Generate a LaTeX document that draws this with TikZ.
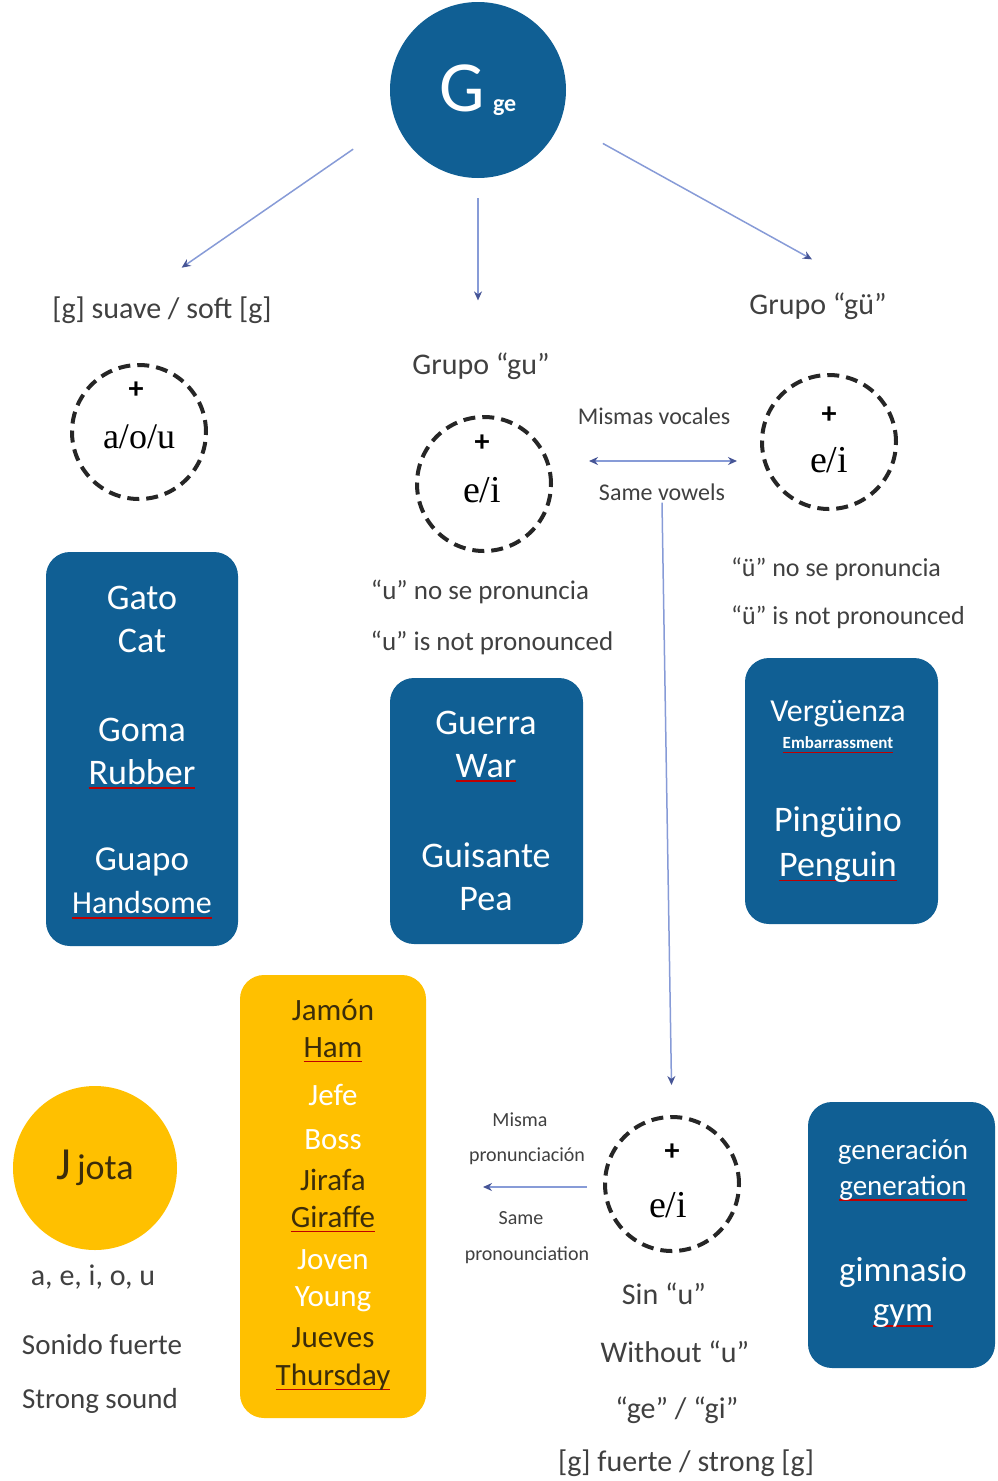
\documentclass[tikz,border=0pt]{standalone}
\usepackage{fontspec}
\setmainfont{Carlito}
\newfontfamily\vokalschrift{Liberation Serif}
\usetikzlibrary{arrows.meta}

\definecolor{gblau}{RGB}{16,95,148}
\definecolor{jgelb}{RGB}{255,192,0}
\definecolor{pfeil}{RGB}{135,155,215}
\definecolor{pfeilspitze}{RGB}{70,85,150}
\definecolor{grautext}{RGB}{64,64,64}
\definecolor{jdunkel}{RGB}{60,45,10}

\newcommand\fsz[1]{\fontsize{#1}{#1}\selectfont}
\newsavebox\wortbox
\newcommand\unterstr[1]{\sbox\wortbox{#1}\rlap{\textcolor{red!75!black}{\rule[-5pt]{\wd\wortbox}{1.6pt}}}\usebox\wortbox}

\begin{document}
\begin{tikzpicture}[x=1pt,y=-1pt,
    kasten/.style={rectangle, rounded corners=24pt, inner sep=0pt},
    kreis/.style={circle, draw=black!85, line width=4pt, dash pattern=on 12pt off 7pt, minimum size=134pt, inner sep=0pt},
    grau/.style={text=grautext, inner sep=2pt},
    pf/.style={draw=pfeil, line width=1.5pt, -{Stealth[length=9pt,width=8pt,color=pfeilspitze]}},
    wort/.style={text=white, inner sep=1pt}]
    \useasboundingbox (0,0) rectangle (997,1481);

    % Hauptkreis
    \node[circle, fill=gblau, minimum size=176pt, text=white] (gge) at (478,90)
        {\fsz{72}G\hspace{8pt}\fsz{24}\bfseries ge};

    \node[grau] (soft) at (162,310) {\fsz{30}[g] suave / soft [g]};
    \node[grau] (gu) at (481,366) {\fsz{30}Grupo “gu”};
    \node[grau] (gue) at (818,306) {\fsz{30}Grupo “gü”};

    \draw[pf, shorten <=51pt, shorten >=47pt] (gge.200) -- ([xshift=-19pt]soft.north);
    \draw[pf, shorten <=20pt, shorten >=50pt] (gge.south) -- (gge.south |- gu.north);
    \draw[pf, shorten <=48pt, shorten >=64pt] (gge.340) -- ([xshift=50pt]gue.north);

    % Kreise
    \node[kreis] (k1) at (139,432) {};
    \node (k1p) at (136,390) {\fsz{30}\bfseries +};
    \node (k1t) at (139,437) {\vokalschrift\fsz{36}a/o/u};
    \node[kreis] (k2) at (484,484) {};
    \node (k2p) at (482,443) {\fsz{30}\bfseries +};
    \node (k2t) at (482,490) {\vokalschrift\fsz{38}e/i};
    \node[kreis] (k3) at (829,442) {};
    \node (k3p) at (829,415) {\fsz{30}\bfseries +};
    \node (k3t) at (829,460) {\vokalschrift\fsz{38}e/i};
    \node[kreis] (k4) at (672,1184) {};
    \node (k4p) at (672,1152) {\fsz{30}\bfseries +};
    \node (k4t) at (668,1205) {\vokalschrift\fsz{38}e/i};

    \node[grau] (misv) at (654,416) {\fsz{24}Mismas vocales};
    \node[grau] (samev) at (662,492) {\fsz{24}Same vowels};
    \draw[pf, {Stealth[length=9pt,width=8pt,color=pfeilspitze]}-{Stealth[length=9pt,width=8pt,color=pfeilspitze]}]
        ([xshift=36pt,yshift=23pt]k2.east) -- ([xshift=-23pt,yshift=-19pt]k3.west);
    \draw[pf, shorten >=30pt] (samev.south) -- (k4.north);

    \node[grau] (unp1) at (480,592) {\fsz{27}“u” no se pronuncia};
    \node[grau] (unp2) at (492,643) {\fsz{27}“u” is not pronounced};
    \node[grau] (uep1) at (836,569) {\fsz{26}“ü” no se pronuncia};
    \node[grau] (uep2) at (848,617) {\fsz{26}“ü” is not pronounced};

    % Wortkaesten
    \node[kasten, fill=gblau, minimum width=192pt, minimum height=394pt] (box1) at (142,749) {};
    \foreach \y/\s/\w [count=\i] in {598/36/Gato, 641/36/Cat, 730/36/Goma, 774/36/\unterstr{Rubber}, 862/35/Guapo, 905/32/\unterstr{Handsome}}
        \node[wort] (a\i) at (142,\y) {\fsz{\s}\w};

    \node[kasten, fill=gblau, minimum width=193pt, minimum height=266pt] (box2) at (486.5,811) {};
    \foreach \y/\w [count=\i] in {723/Guerra, 768/\unterstr{War}, 855/Guisante, 899/Pea}
        \node[wort] (b\i) at (486,\y) {\fsz{36}\w};

    \node[kasten, fill=gblau, minimum width=193pt, minimum height=266pt] (box3) at (841.5,791) {};
    \foreach \y/\s/\w [count=\i] in {714/32/Vergüenza, 745/17/\unterstr{\bfseries Embarrassment}, 822/36/Pingüino, 867/36/\unterstr{Penguin}}
        \node[wort] (c\i) at (838,\y) {\fsz{\s}\w};

    \node[kasten, fill=gblau, minimum width=187pt, minimum height=266pt] (box4) at (901.5,1235) {};
    \foreach \y/\s/\w [count=\i] in {1152/29/generación, 1188/29/\unterstr{generation}, 1272/35/gimnasio, 1316/35/\unterstr{gym}}
        \node[wort] (d\i) at (903,\y) {\fsz{\s}\w};

    \node[kasten, fill=jgelb, minimum width=186pt, minimum height=443pt] (box5) at (333,1196.5) {};
    \foreach \y/\c/\w [count=\i] in {1010/jdunkel/Jamón, 1050/jdunkel/\unterstr{Ham}, 1095/white/Jefe, 1140/white/Boss,
        1180/jdunkel/Jirafa, 1219/jdunkel/\unterstr{Giraffe}, 1260/white/Joven, 1299/white/Young,
        1338/jdunkel/Jueves, 1377/jdunkel/\unterstr{Thursday}}
        \node[text=\c, inner sep=1pt] (e\i) at (333,\y) {\fsz{31}\w};

    % Jota
    \node[circle, fill=jgelb, minimum size=164pt, text=jdunkel] (jota) at (95,1168)
        {\fsz{46}J\hspace{6pt}\fsz{36}jota};
    \node[grau] (vok) at (93,1277) {\fsz{30}a, e, i, o, u};
    \node[grau] (sonf) at (102,1345) {\fsz{29}Sonido fuerte};
    \node[grau] (strs) at (100,1401) {\fsz{29}Strong sound};

    % Aussprache
    \node[grau] (mis1) at (520,1120) {\fsz{20}Misma};
    \node[grau] (mis2) at (527,1156) {\fsz{20}pronunciación};
    \node[grau] (mis3) at (521,1218) {\fsz{20}Same};
    \node[grau] (mis4) at (527,1255) {\fsz{20}pronounciation};
    \coordinate (misl) at (483,1187);
    \draw[pf, shorten <=16pt] (k4.west |- misl) -- (misl);

    \node[grau] (sinu) at (664,1294) {\fsz{30}Sin “u”};
    \node[grau] (withu) at (675,1352) {\fsz{30}Without “u”};
    \node[grau] (gegi) at (677,1410) {\fsz{30}“ge” / “gi”};
    \node[grau] (fuer) at (686,1463) {\fsz{30}[g] fuerte / strong [g]};
\end{tikzpicture}
\end{document}
